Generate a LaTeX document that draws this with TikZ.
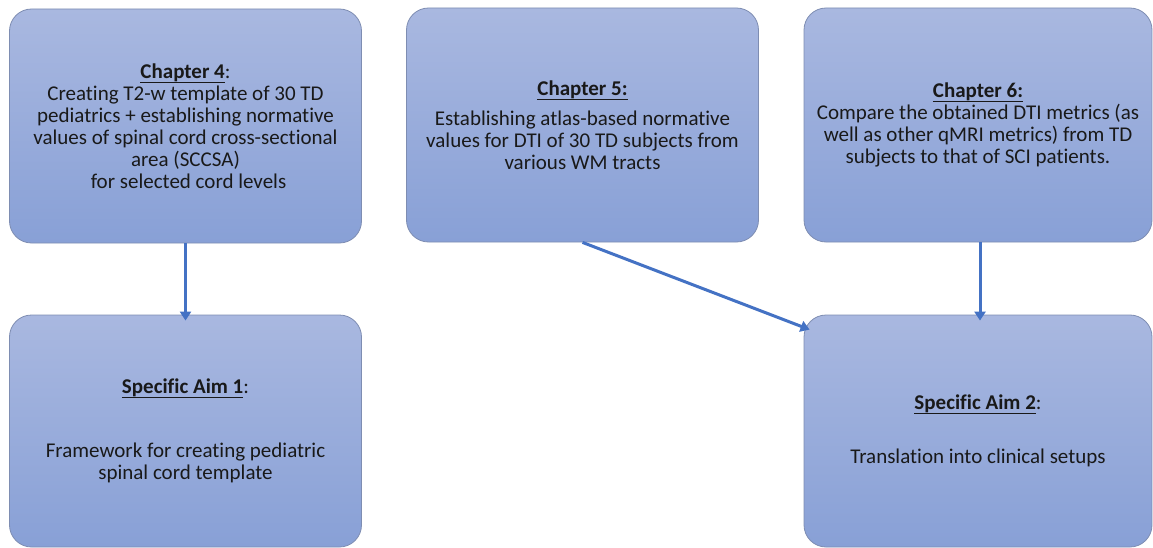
\documentclass[tikz,border=0pt]{standalone}
\usepackage{fontspec}
\setmainfont{Carlito}[Ligatures=NoCommon]
\usetikzlibrary{arrows.meta,calc}
\definecolor{boxtop}{HTML}{A9B8E0}
\definecolor{boxbot}{HTML}{88A0D6}
\definecolor{boxline}{HTML}{7E8DB2}
\definecolor{arrblue}{HTML}{4472C4}
\newcommand\myul[1]{{\setbox0\hbox{#1}\rlap{\rule[-4.6pt]{\wd0}{1.2pt}}\box0}}
\tikzset{
  box/.style={draw=boxline, line width=0.8pt, rounded corners=22pt,
    top color=boxtop, bottom color=boxbot, align=center,
    minimum width=352pt, minimum height=234pt, inner sep=0pt,
    font=\fontsize{21}{22}\selectfont, text=black!90},
  conn/.style={draw=arrblue, line width=3pt,
    -{Triangle[length=9pt,width=11pt]}}
}
\begin{document}
\begin{tikzpicture}[x=1pt,y=1pt]
\useasboundingbox (0,0) rectangle (1153,-548);
\node[box] (ch4) at (185.5,-126) {\textbf{\myul{Chapter 4}}:\\
Creating T2-w template of 30 TD\\
pediatrics + establishing normative\\
values of spinal cord cross-sectional\\
area (SCCSA)\hspace{6pt}\\
\hspace{6pt}for selected cord levels};
\node[box] (ch5) at (582.5,-125) {\textbf{\myul{Chapter 5:}}\\[8pt]
Establishing atlas-based normative\\
values for DTI of 30 TD subjects from\\
various WM tracts};
\node[box, minimum width=348pt] (ch6) at (978,-125) {\textbf{\myul{Chapter 6:}}\\
Compare the obtained DTI metrics (as\\
well as other qMRI metrics) from TD\\
subjects to that of SCI patients.};
\node[box, minimum height=232pt] (aim1) at (185.5,-431) {\textbf{\myul{Specific Aim 1}}:\\[42pt]
Framework for creating pediatric\\
spinal cord template};
\node[box, minimum width=348pt, minimum height=232pt] (aim2) at (978,-431) {\textbf{\myul{Specific Aim 2}}:\\[32pt]
Translation into clinical setups};
\coordinate (aim2in) at ($(aim2.north west)+(6,-15)$);
\draw[conn, shorten >=-6pt] (ch4.south) -- (aim1.north);
\draw[conn, shorten >=-6pt] ([xshift=2pt]ch6.south) -- ([xshift=2pt]aim2.north);
\draw[conn] (ch5.south) -- (aim2in);
\end{tikzpicture}
\end{document}
